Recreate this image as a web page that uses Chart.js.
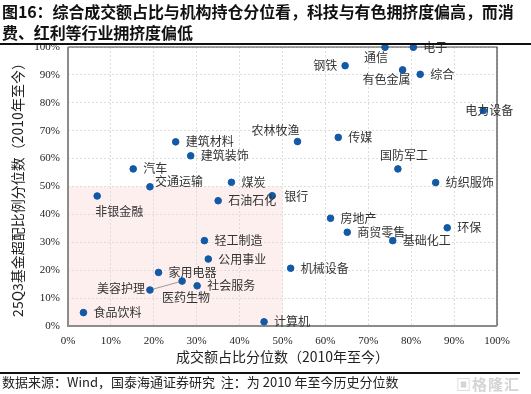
<!DOCTYPE html>
<html>
<head>
<meta charset="utf-8">
<script src="https://cdn.jsdelivr.net/npm/chart.js@4.4.1/dist/chart.umd.min.js"></script>
<style>
  body { margin: 0; background: #fff; }
  #wrap { position: relative; width: 531px; height: 394px; overflow: hidden; }
  #chart { position: absolute; left: 0; top: 0; }
  .title { position: absolute; left: 2px; top: 1px; font-family: "Noto Sans CJK SC"; font-weight: bold;
           font-size: 16px; line-height: 21px; color: #111; white-space: nowrap; letter-spacing: -0.1px; }
  .rule { position: absolute; left: 0; width: 531px; height: 1.5px; background: #111; }
  .foot { position: absolute; left: 2px; top: 372px; font-family: "Noto Sans CJK SC"; font-size: 13px;
          line-height: 20px; color: #222; white-space: nowrap; }
  .mark { position: absolute; left: 456px; top: 373px; font-family: "Noto Sans CJK SC"; font-size: 15px;
          color: #d4d4d4; font-weight: bold; letter-spacing: 1px; }
</style>
</head>
<body>
<div id="wrap">
  <canvas id="chart" width="531" height="394"></canvas>
  <div class="title">图16：综合成交额占比与机构持仓分位看，科技与有色拥挤度偏高，而消<br>费、红利等行业拥挤度偏低</div>
  <div class="rule" style="top:43px"></div>
  <div class="rule" style="top:372px; width:520px"></div>
  <div class="foot">数据来源：Wind，国泰海通证券研究&nbsp; 注：为 2010 年至今历史分位数</div>
  <div class="mark">▣格隆汇</div>
</div>
<script>
// 31 industries: x = turnover share percentile, y = fund overweight percentile
const categories = ['电子','通信','钢铁','有色金属','综合','电力设备','农林牧渔','传媒','建筑材料','建筑装饰','汽车',
  '国防军工','交通运输','煤炭','纺织服饰','非银金融','银行','石油石化','房地产','商贸零售','环保','轻工制造',
  '基础化工','公用事业','机械设备','家用电器','医药生物','美容护理','社会服务','食品饮料','计算机'];
const turnoverPct = [80.5, 73.9, 64.6, 78.0, 82.1, 96.8, 53.5, 63.0, 25.1, 28.6, 15.2,
  76.9, 19.1, 38.1, 85.7, 6.8, 47.6, 35.0, 61.2, 65.1, 88.4, 31.8,
  75.7, 32.7, 51.9, 21.1, 26.6, 19.1, 30.1, 3.6, 45.7];
const overweightPct = [99.9, 99.9, 93.3, 91.8, 90.2, 77.2, 66.1, 67.6, 66.0, 61.0, 56.3,
  56.3, 49.9, 51.5, 51.4, 46.6, 46.7, 44.9, 38.6, 33.6, 35.2, 30.6,
  30.6, 24.0, 20.7, 19.2, 16.1, 12.9, 14.4, 4.8, 1.5];
const tickValues = [0, 10, 20, 30, 40, 50, 60, 70, 80, 90, 100];

// label placement tweaks (pixels); anything not listed sits to the right of its dot
const labelPos = {
  '通信': { align: 'center', dx: -9, dy: 10 },
  '钢铁': { align: 'right', dx: -8, dy: 0 },
  '有色金属': { align: 'center', dx: -16, dy: 10 },
  '电力设备': { align: 'center', dx: 6, dy: 0 },
  '农林牧渔': { align: 'center', dx: -22, dy: -11 },
  '国防军工': { align: 'center', dx: 6, dy: -13 },
  '交通运输': { align: 'left', dx: 5, dy: -5 },
  '非银金融': { align: 'center', dx: 22, dy: 15 },
  '美容护理': { align: 'right', dx: -5, dy: -2 },
  '医药生物': { align: 'center', dx: 4, dy: 16 },
  '银行': { align: 'left', dx: 12, dy: 1 }
};

const points = categories.map((c, i) => ({ x: turnoverPct[i], y: overweightPct[i] }));

const frame = {
  id: 'frame',
  beforeDraw(chart) {
    const { ctx, scales: { x, y } } = chart;
    const l = x.getPixelForValue(0), r = x.getPixelForValue(50);
    const t = y.getPixelForValue(50), b = y.getPixelForValue(0);
    ctx.save();
    ctx.fillStyle = '#fcefee';
    ctx.fillRect(l, t, r - l, b - t);
    ctx.restore();
  },
  beforeDatasetsDraw(chart) {
    const { ctx, chartArea: a } = chart;
    ctx.save();
    ctx.strokeStyle = '#444';
    ctx.lineWidth = 1.2;
    ctx.beginPath();
    ctx.moveTo(a.left, a.top); ctx.lineTo(a.right, a.top); ctx.lineTo(a.right, a.bottom);
    ctx.stroke();
    ctx.strokeStyle = '#8c8c8c';
    ctx.lineWidth = 2;
    ctx.beginPath();
    ctx.moveTo(a.left, a.top); ctx.lineTo(a.left, a.bottom); ctx.lineTo(a.right, a.bottom);
    ctx.stroke();
    // leader line between 美容护理 and 医药生物
    const meta = chart.getDatasetMeta(0);
    const p1 = meta.data[categories.indexOf('美容护理')];
    const p2 = meta.data[categories.indexOf('医药生物')];
    ctx.strokeStyle = '#9a9a9a';
    ctx.lineWidth = 1;
    ctx.beginPath();
    ctx.moveTo(p1.x, p1.y); ctx.lineTo(p2.x, p2.y);
    ctx.stroke();
    ctx.restore();
  },
  afterDatasetsDraw(chart) {
    const { ctx } = chart;
    const meta = chart.getDatasetMeta(0);
    ctx.save();
    ctx.font = '12px "Noto Sans CJK SC"';
    ctx.fillStyle = '#333';
    ctx.textBaseline = 'middle';
    categories.forEach((c, i) => {
      const p = meta.data[i];
      const o = labelPos[c] || { align: 'left', dx: 10, dy: 0 };
      ctx.textAlign = o.align;
      ctx.fillText(c, p.x + o.dx, p.y + o.dy);
    });
    ctx.restore();
  }
};

new Chart(document.getElementById('chart'), {
  type: 'scatter',
  data: {
    datasets: [{
      data: points,
      backgroundColor: '#1259a6',
      borderColor: '#1259a6',
      pointRadius: 3.3,
      clip: false
    }]
  },
  options: {
    responsive: false,
    animation: false,
    layout: { padding: { left: 0, right: 34, top: 47, bottom: 24 } },
    plugins: { legend: { display: false }, tooltip: { enabled: false } },
    scales: {
      x: {
        type: 'linear', min: 0, max: 100,
        afterBuildTicks: (s) => { s.ticks = tickValues.map(v => ({ value: v })); },
        afterFit: (s) => { s.height = 44; },
        grid: { color: '#dcdcdc', drawTicks: false },
        border: { display: false, dash: [2, 2] },
        ticks: { padding: 9, color: '#222', font: { family: 'Liberation Serif', size: 11 },
                 maxRotation: 0, callback: v => v + '%' },
        title: { display: true, text: '成交额占比分位数（2010年至今）', color: '#222',
                 font: { family: 'Noto Sans CJK SC', size: 14 }, padding: { top: 0, bottom: 5 } }
      },
      y: {
        type: 'linear', min: 0, max: 100,
        afterBuildTicks: (s) => { s.ticks = tickValues.map(v => ({ value: v })); },
        afterFit: (s) => { s.width = 68; },
        grid: { color: '#dcdcdc', drawTicks: false },
        border: { display: false, dash: [2, 2] },
        ticks: { padding: 8, color: '#222', font: { family: 'Liberation Serif', size: 11 },
                 callback: v => v + '%' },
        title: { display: true, text: '25Q3基金超配比例分位数（2010年至今）', color: '#222',
                 font: { family: 'Noto Sans CJK SC', size: 14 }, padding: { top: 9, bottom: 0 } }
      }
    }
  },
  plugins: [frame]
});
</script>
</body>
</html>
